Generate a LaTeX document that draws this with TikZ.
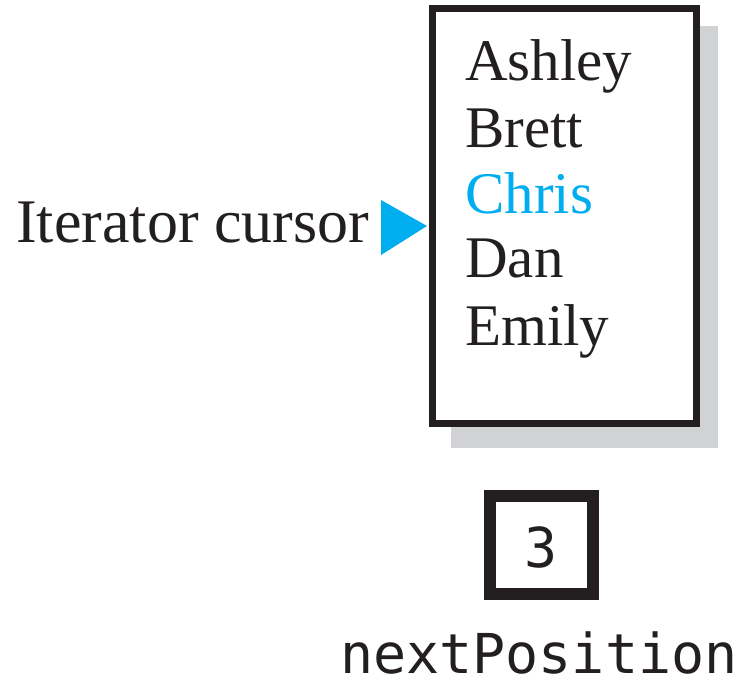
\documentclass[tikz,border=0pt]{standalone}
\usepackage{fontspec}
\setmainfont{Liberation Serif}
\newfontfamily\monofnt{DejaVu Sans Mono}
\definecolor{ink}{RGB}{35,31,32}
\definecolor{cur}{RGB}{0,174,239}
\definecolor{shadowgray}{RGB}{209,210,212}
\begin{document}
\begin{tikzpicture}[x=1pt,y=-1pt,
  listname/.style={anchor=base west,inner sep=0pt,text=ink,font=\fontsize{59}{66}\selectfont},
  monotext/.style={inner sep=0pt,text=ink,font=\monofnt\fontsize{55}{60}\selectfont}]
\useasboundingbox (0,0) rectangle (736,673);
% shadow and list box
\fill[shadowgray] (451,26) rectangle (718,448);
\draw[ink,fill=white,line width=6.5pt] (432.5,8.5) rectangle (696.5,423.5);
\node[listname] (ashley) at (465,80) {Ashley};
\node[listname] (brett) at (465,147) {Brett};
\node[listname,text=cur] (chris) at (465,213) {Chris};
\node[listname] (dan) at (465,277) {Dan};
\node[listname] (emily) at (465,345) {Emily};
% cursor
\node[listname,font=\fontsize{62}{66}\selectfont] (label) at (16,242) {Iterator cursor};
\fill[cur] (381,200) -- (427,226) -- (381,255) -- cycle;
% nextPosition box
\draw[ink,line width=12pt] (490,496) rectangle (593,594);
\node[monotext,anchor=base] (val) at (541.5,567) {3};
\node[monotext,anchor=base west] (np) at (340,673) {nextPosition};
\end{tikzpicture}
\end{document}
